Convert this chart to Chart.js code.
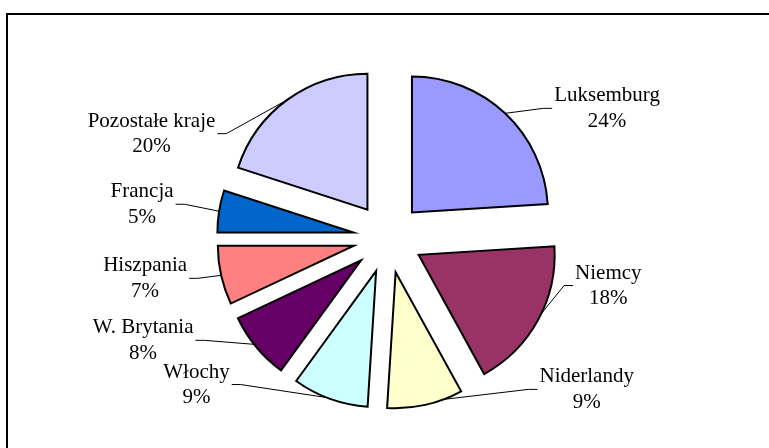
<!DOCTYPE html>
<html>
<head>
  <meta charset="utf-8">
  <title>Pie chart</title>
  <style>
    body {
      margin: 0;
      background: #fff;
    }

    #chart-container {
      position: relative;
      width: 769px;
      height: 448px;
      overflow: hidden;
    }

    #frame {
      position: absolute;
      left: 6px;
      top: 13px;
      width: 800px;
      height: 500px;
      border-left: 2px solid #000;
      border-top: 2px solid #000;
    }
  </style>
</head>
<body>
  <div id="chart-container">
    <div id="frame"></div>
    <canvas id="pie" width="769" height="448"></canvas>
  </div>

  <script src="https://cdn.jsdelivr.net/npm/chart.js"></script>
  <script>
    // data
    const countries = ["Luksemburg", "Niemcy", "Niderlandy", "Włochy", "W. Brytania", "Hiszpania", "Francja", "Pozostałe kraje"];
    const shares = [24, 18, 9, 9, 8, 7, 5, 20];
    const sliceColors = ["#9999FF", "#993366", "#FFFFCC", "#CCFFFF", "#660066", "#FF8080", "#0066CC", "#CCCCFF"];

    // label placement: shift of the label centre from the leader anchor, and where on the arc the leader starts (0..1)
    const labelShift = [[102, -5], [67, -28], [143, -10], [-130, -13], [-111, -4], [-76, 3], [-77, -7], [-136, 34]];
    const anchorAt = [0.5, 0.45, 0.25, 0.55, 0.55, 0.5, 0.5, 0.5];

    const explode = 35;
    const fontSpec = "21px 'Liberation Serif', 'Times New Roman', serif";

    // pull every slice outward along its middle angle
    const explodePlugin = {
      id: "explode",
      beforeDatasetsDraw(chart) {
        const area = chart.chartArea;
        const cx = (area.left + area.right) / 2;
        const cy = (area.top + area.bottom) / 2;
        chart.getDatasetMeta(0).data.forEach(arc => {
          const mid = (arc.startAngle + arc.endAngle) / 2;
          arc.x = cx + Math.cos(mid) * explode;
          arc.y = cy + Math.sin(mid) * explode;
        });
      }
    };

    // category name + percent with a leader line
    const labelPlugin = {
      id: "pieLabels",
      afterDatasetsDraw(chart) {
        const ctx = chart.ctx;
        const arcs = chart.getDatasetMeta(0).data;
        ctx.save();
        ctx.font = fontSpec;
        ctx.fillStyle = "#000";
        ctx.strokeStyle = "#000";
        ctx.lineWidth = 1;
        ctx.textAlign = "center";
        ctx.textBaseline = "middle";
        arcs.forEach((arc, i) => {
          const a = arc.startAngle + (arc.endAngle - arc.startAngle) * anchorAt[i];
          const ax = arc.x + Math.cos(a) * arc.outerRadius;
          const ay = arc.y + Math.sin(a) * arc.outerRadius;
          const lx = ax + labelShift[i][0];
          const ly = ay + labelShift[i][1];
          const line1 = countries[i];
          const line2 = shares[i] + "%";
          const w = Math.max(ctx.measureText(line1).width, ctx.measureText(line2).width);
          const side = labelShift[i][0] > 0 ? -1 : 1;
          const edgeX = lx + side * (w / 2 + 2);
          const elbowX = edgeX + side * 9;

          ctx.beginPath();
          ctx.moveTo(ax, ay);
          ctx.lineTo(elbowX, ly);
          ctx.lineTo(edgeX, ly);
          ctx.stroke();

          ctx.fillText(line1, lx, ly - 12.5);
          ctx.fillText(line2, lx, ly + 13);
        });
        ctx.restore();
      }
    };

    new Chart(document.getElementById("pie").getContext("2d"), {
      type: "pie",
      data: {
        labels: countries,
        datasets: [{
          data: shares,
          backgroundColor: sliceColors,
          borderColor: "#000",
          borderWidth: 2,
          borderJoinStyle: "miter",
          radius: 136
        }]
      },
      options: {
        responsive: false,
        animation: false,
        layout: {
          padding: { left: 107, right: 100, top: 48, bottom: 20 }
        },
        plugins: {
          legend: { display: false },
          tooltip: { enabled: false }
        }
      },
      plugins: [explodePlugin, labelPlugin]
    });
  </script>
</body>
</html>
